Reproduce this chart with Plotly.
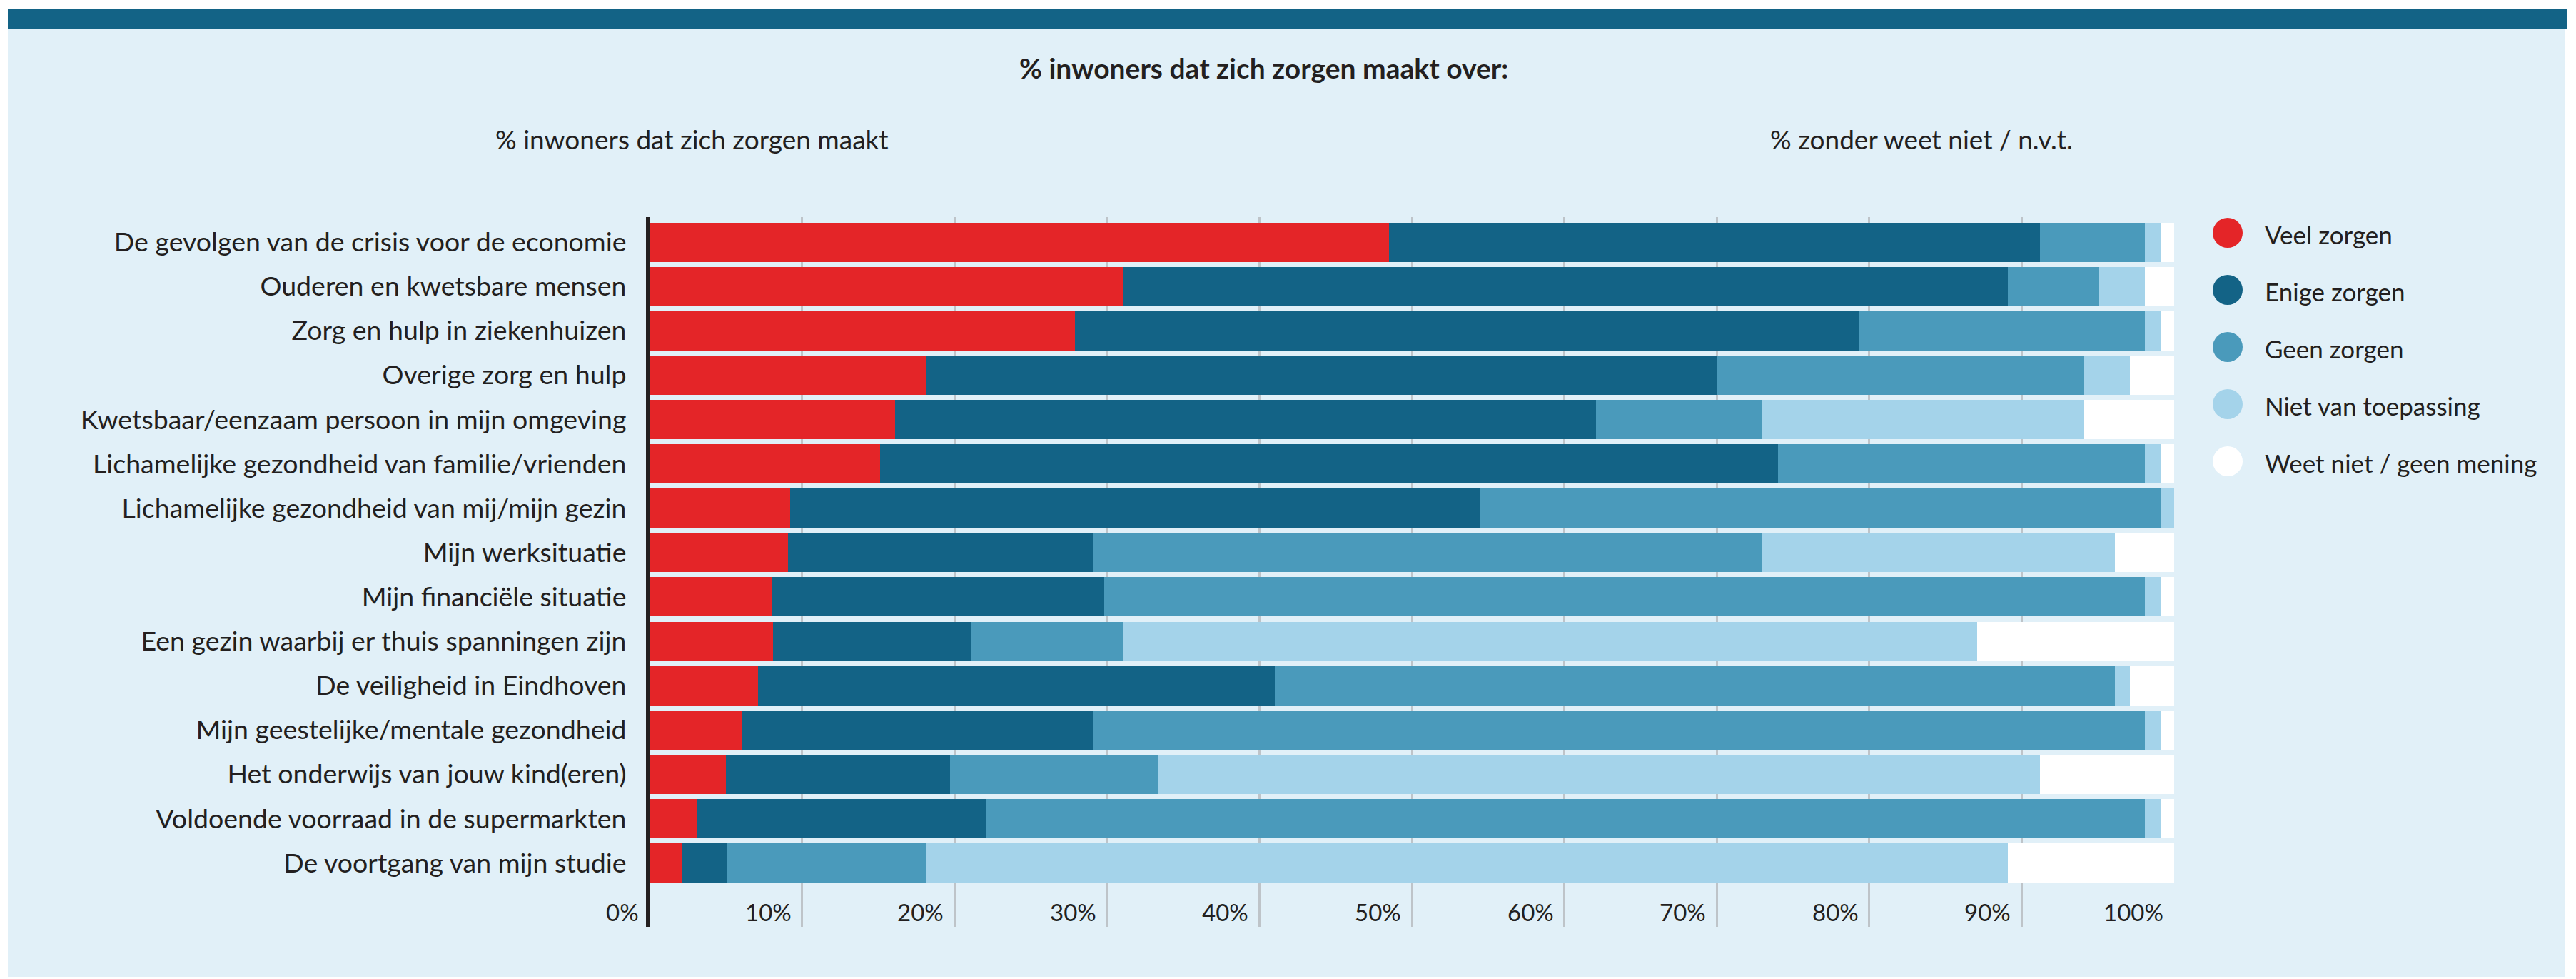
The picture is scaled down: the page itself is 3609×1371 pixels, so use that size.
import plotly.graph_objects as go

# ---------------- data ----------------
categories = [
    "De gevolgen van de crisis voor de economie",
    "Ouderen en kwetsbare mensen",
    "Zorg en hulp in ziekenhuizen",
    "Overige zorg en hulp",
    "Kwetsbaar/eenzaam persoon in mijn omgeving",
    "Lichamelijke gezondheid van familie/vrienden",
    "Lichamelijke gezondheid van mij/mijn gezin",
    "Mijn werksituatie",
    "Mijn financiële situatie",
    "Een gezin waarbij er thuis spanningen zijn",
    "De veiligheid in Eindhoven",
    "Mijn geestelijke/mentale gezondheid",
    "Het onderwijs van jouw kind(eren)",
    "Voldoende voorraad in de supermarkten",
    "De voortgang van mijn studie",
]
veel_zorgen = [48.5, 31.1, 27.9, 18.1, 16.1, 15.1, 9.2, 9.1, 8.0, 8.1, 7.1, 6.1, 5.0, 3.1, 2.1]
enige_zorgen = [42.7, 58.0, 51.4, 51.9, 46.0, 58.9, 45.3, 20.0, 21.8, 13.0, 33.9, 23.0, 14.7, 19.0, 3.0]
geen_zorgen = [6.9, 6.0, 18.8, 24.1, 10.9, 24.1, 44.6, 43.9, 68.3, 10.0, 55.1, 69.0, 13.7, 76.0, 13.0]
niet_van_toepassing = [1.0, 3.0, 1.0, 3.0, 21.1, 1.0, 0.9, 23.1, 1.0, 56.0, 1.0, 1.0, 57.8, 1.0, 71.0]
weet_niet = [0.9, 1.9, 0.9, 2.9, 5.9, 0.9, 0.0, 3.9, 0.9, 12.9, 2.9, 0.9, 8.8, 0.9, 10.9]

series_names = ["Veel zorgen", "Enige zorgen", "Geen zorgen", "Niet van toepassing", "Weet niet / geen mening"]
series_values = [veel_zorgen, enige_zorgen, geen_zorgen, niet_van_toepassing, weet_niet]
series_colors = ["#E42528", "#136386", "#4A9ABB", "#A4D3EA", "#FFFFFF"]

tick_values = [0, 10, 20, 30, 40, 50, 60, 70, 80, 90, 100]
tick_labels = ["0%", "10%", "20%", "30%", "40%", "50%", "60%", "70%", "80%", "90%", "100%"]

title_text = "% inwoners dat zich zorgen maakt over:"
sub_left = "% inwoners dat zich zorgen maakt"
sub_right = "% zonder weet niet / n.v.t."

# ---------------- geometry ----------------
W, H = 3609, 1371
ML, MR, MT, MB = 910, 563, 304, 73
PW, PH = W - ML - MR, H - MT - MB
FONT = "Lato"
TXT = "#231F20"
PANEL = "#E1F0F8"


def px(x):
    return (x - ML) / PW


def py(y):
    return (H - MB - y) / PH


fig = go.Figure()
for name, vals, col in zip(series_names, series_values, series_colors):
    fig.add_trace(go.Bar(
        y=categories, x=vals, name=name, orientation="h",
        marker=dict(color=col, line=dict(width=0)),
        width=0.885, showlegend=False,
        hovertemplate="%{y}: %{x}%<extra>" + name + "</extra>",
    ))

shapes = [
    dict(type="rect", xref="paper", yref="paper", x0=px(11), x1=px(3594), y0=py(1368), y1=py(40),
         fillcolor=PANEL, line=dict(width=0), layer="below"),
    dict(type="rect", xref="paper", yref="paper", x0=px(11), x1=px(3596), y0=py(40), y1=py(13),
         fillcolor="#136386", line=dict(width=0), layer="below"),
]
annotations = [
    dict(text="<b>" + title_text + "</b>", x=px(1770), y=py(95), xref="paper", yref="paper",
         xanchor="center", yanchor="middle", showarrow=False, font=dict(family=FONT, size=39, color=TXT)),
    dict(text=sub_left, x=px(969), y=py(195), xref="paper", yref="paper",
         xanchor="center", yanchor="middle", showarrow=False, font=dict(family=FONT, size=37, color=TXT)),
    dict(text=sub_right, x=px(2692), y=py(195), xref="paper", yref="paper",
         xanchor="center", yanchor="middle", showarrow=False, font=dict(family=FONT, size=37, color=TXT)),
]

# legend (large circles)
leg_cy = [326, 406, 486, 566, 646]
for name, col, cy in zip(series_names, series_colors, leg_cy):
    shapes.append(dict(type="circle", xref="paper", yref="paper",
                       x0=px(3100), x1=px(3142), y0=py(cy + 21), y1=py(cy - 21),
                       fillcolor=col, line=dict(width=0)))
    annotations.append(dict(text=name, x=px(3171), y=py(cy + 2), xref="paper", yref="paper",
                            xanchor="left", yanchor="middle", showarrow=False,
                            font=dict(family=FONT, size=35, color=TXT)))

# x tick labels (right-aligned to their gridline)
for v, lab in zip(tick_values, tick_labels):
    annotations.append(dict(text=lab, x=v, xref="x", y=py(1277), yref="paper",
                            xanchor="right", yanchor="middle", xshift=-13, showarrow=False,
                            font=dict(family=FONT, size=33, color=TXT)))

fig.update_layout(
    width=W, height=H,
    margin=dict(l=ML, r=MR, t=MT, b=MB, pad=0),
    paper_bgcolor="white",
    plot_bgcolor="rgba(0,0,0,0)",
    barmode="stack",
    bargap=0,
    showlegend=False,
    shapes=shapes,
    annotations=annotations,
    font=dict(family=FONT, color=TXT),
    xaxis=dict(range=[0, 100], tickvals=tick_values, showticklabels=False,
               showgrid=True, gridcolor="#BEC4C9", gridwidth=2.5, zeroline=False,
               showline=False, fixedrange=True, automargin=False),
    yaxis=dict(type="category", categoryorder="array", categoryarray=categories,
               range=[15.44, -0.564], showgrid=False, zeroline=False,
               showline=True, linecolor=TXT, linewidth=5,
               ticks="outside", ticklen=20, tickcolor="rgba(0,0,0,0)",
               tickfont=dict(family=FONT, size=37.5, color=TXT), fixedrange=True,
               automargin=False),
)

fig.write_html("out.html", config={"displayModeBar": False},
               post_script="document.body.style.margin='0px';")
